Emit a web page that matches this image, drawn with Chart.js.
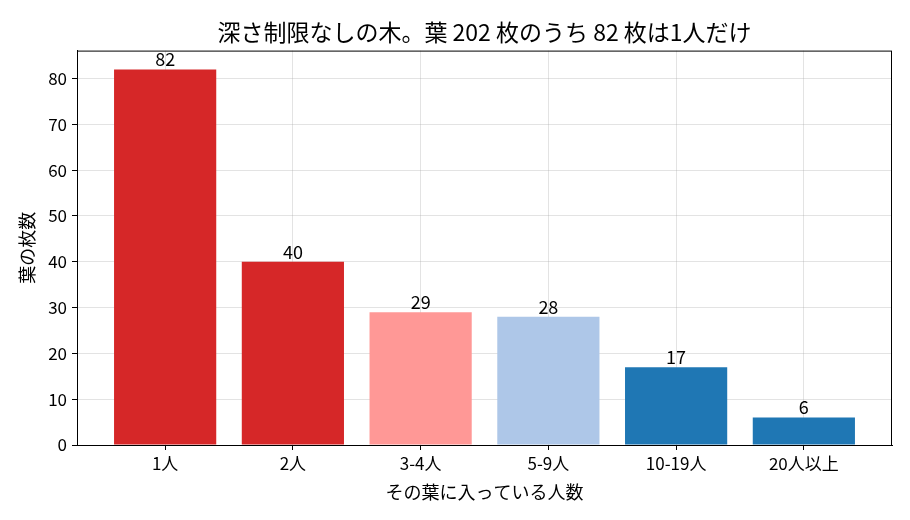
<!DOCTYPE html>
<html>
<head>
<meta charset="utf-8">
<script src="https://cdn.jsdelivr.net/npm/chart.js@4/dist/chart.umd.min.js"></script>
<style>
  html, body { margin: 0; padding: 0; background: #ffffff; }
  #wrap { width: 910px; height: 520px; }
</style>
</head>
<body>
<div id="wrap"><canvas id="leafChart" width="910" height="520"></canvas></div>
<script>
// Leaf counts by number of people per leaf
const categories = ['1人', '2人', '3-4人', '5-9人', '10-19人', '20人以上'];
const leafCounts = [82, 40, 29, 28, 17, 6];
const barColors = ['#d62728', '#d62728', '#ff9896', '#aec7e8', '#1f77b4', '#1f77b4'];
const yTicks = [0, 10, 20, 30, 40, 50, 60, 70, 80];

const FONT = '"Noto Sans CJK JP", "Noto Sans", sans-serif';
const GRID = 'rgba(176, 176, 176, 0.35)';

// value labels above each bar
const barLabels = {
    id: 'barLabels',
    afterDatasetsDraw(chart) {
        const ctx = chart.ctx;
        const meta = chart.getDatasetMeta(0);
        ctx.save();
        ctx.font = '18px ' + FONT;
        ctx.fillStyle = '#000000';
        ctx.textAlign = 'center';
        ctx.textBaseline = 'bottom';
        meta.data.forEach((bar, i) => {
            ctx.fillText(String(leafCounts[i]), bar.x, bar.y - 1);
        });
        ctx.restore();
    }
};

// full box around the plot area
const frame = {
    id: 'frame',
    afterDraw(chart) {
        const a = chart.chartArea;
        const ctx = chart.ctx;
        ctx.save();
        ctx.strokeStyle = '#000000';
        ctx.lineWidth = 1;
        ctx.strokeRect(a.left + 0.5, a.top + 0.5, a.right - a.left - 1, a.bottom - a.top);
        ctx.restore();
    }
};

// centre the title over the plot area rather than the whole canvas
const centreTitle = {
    id: 'centreTitle',
    afterLayout(chart) {
        if (chart.titleBlock) {
            chart.titleBlock.left = chart.chartArea.left;
            chart.titleBlock.right = chart.chartArea.right;
        }
    }
};

new Chart(document.getElementById('leafChart'), {
    type: 'bar',
    data: {
        datasets: [{
            data: leafCounts.map((v, i) => ({ x: i, y: v })),
            backgroundColor: barColors,
            borderWidth: 0,
            barPercentage: 0.8,
            categoryPercentage: 1.0
        }]
    },
    options: {
        responsive: false,
        animation: false,
        layout: { padding: { left: 0, right: 18, top: 0, bottom: 0 } },
        plugins: {
            legend: { display: false },
            tooltip: { enabled: false },
            title: {
                display: true,
                text: '深さ制限なしの木。葉 202 枚のうち 82 枚は1人だけ',
                color: '#000000',
                font: { family: FONT, size: 23, weight: 'normal' },
                padding: { top: 18, bottom: 5 }
            }
        },
        scales: {
            x: {
                type: 'linear',
                min: -0.69,
                max: 5.69,
                offset: false,
                z: 1,
                afterBuildTicks(scale) {
                    scale.ticks = categories.map((c, i) => ({ value: i }));
                },
                afterFit(scale) { scale.height = 75; },
                ticks: {
                    color: '#000000',
                    font: { family: FONT, size: 17 },
                    padding: 3,
                    maxRotation: 0,
                    autoSkip: false,
                    callback: (v) => categories[v]
                },
                grid: { offset: false, color: GRID, lineWidth: 1, tickColor: '#000000', tickLength: 5 },
                border: { color: '#000000', width: 1 },
                title: {
                    display: true,
                    text: 'その葉に入っている人数',
                    color: '#000000',
                    font: { family: FONT, size: 18 },
                    padding: { top: 2, bottom: 17 }
                }
            },
            y: {
                min: 0,
                max: 86.1,
                z: 1,
                afterBuildTicks(scale) {
                    scale.ticks = yTicks.map(v => ({ value: v }));
                },
                afterFit(scale) { scale.width = 77; },
                ticks: {
                    color: '#000000',
                    font: { family: FONT, size: 17 },
                    padding: 5
                },
                grid: { color: GRID, lineWidth: 1, tickColor: '#000000', tickLength: 5 },
                border: { color: '#000000', width: 1 },
                title: {
                    display: true,
                    text: '葉の枚数',
                    color: '#000000',
                    font: { family: FONT, size: 18 },
                    padding: { top: 16, bottom: 0 }
                }
            }
        }
    },
    plugins: [barLabels, frame, centreTitle]
});
</script>
</body>
</html>
